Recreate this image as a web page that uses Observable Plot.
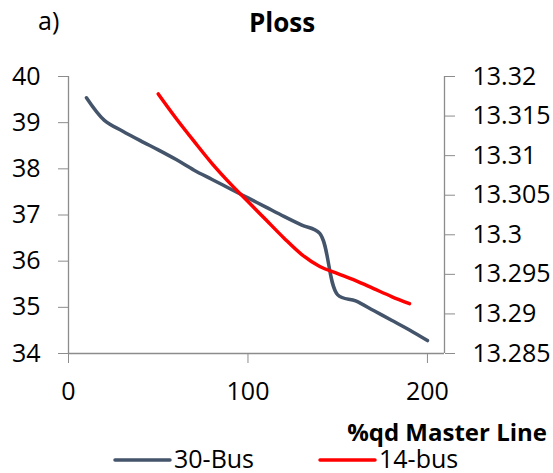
<!DOCTYPE html>
<html>
<head>
<meta charset="utf-8">
<script src="https://cdn.jsdelivr.net/npm/d3@7"></script>
<script src="https://cdn.jsdelivr.net/npm/@observablehq/plot@0.6"></script>
<style>
  html, body { margin: 0; padding: 0; background: #fff; }
</style>
</head>
<body>
<div id="chart"></div>
<script>
// ---- data ----
const chartTitle = "Ploss";
const panelLabel = "a)";
const xLabel = "%qd Master Line";
const seriesNames = ["30-Bus", "14-bus"];
const seriesColors = ["#44546A", "#FF0000"];

const x30 = [10, 20, 30, 40, 50, 60, 70, 80, 90, 100, 110, 120, 130, 140, 150, 160, 170, 180, 190, 200];
const y30 = [39.54, 39.05, 38.82, 38.61, 38.41, 38.2, 37.97, 37.77, 37.57, 37.37, 37.17, 36.97, 36.78, 36.6, 35.27, 35.14, 34.93, 34.72, 34.51, 34.28];

const x14 = [50, 60, 70, 80, 90, 100, 110, 120, 130, 140, 150, 160, 170, 180, 190];
const y14 = [13.3178, 13.3147, 13.3118, 13.309, 13.3065, 13.3042, 13.3019, 13.2996, 13.2975, 13.296, 13.2951, 13.2942, 13.2932, 13.2922, 13.2913];

const xTicks = [0, 100, 200];
const leftTicks = [34, 35, 36, 37, 38, 39, 40];
const rightTicks = [13.285, 13.29, 13.295, 13.3, 13.305, 13.31, 13.315, 13.32];
const xDomain = [0, 209.5];
const leftDomain = [34, 40];
const rightDomain = [13.285, 13.32];

// map right-axis values onto left scale
const toLeft = v => leftDomain[0] + (v - rightDomain[0]) / (rightDomain[1] - rightDomain[0]) * (leftDomain[1] - leftDomain[0]);
const toRight = v => rightDomain[0] + (v - leftDomain[0]) / (leftDomain[1] - leftDomain[0]) * (rightDomain[1] - rightDomain[0]);

const data30 = x30.map((x, i) => ({x, y: y30[i]}));
const data14 = x14.map((x, i) => ({x, y: toLeft(y14[i])}));

const axisColor = "#8c8c8c";
const font = "'Open Sans', 'Liberation Sans', sans-serif";

const svg = Plot.plot({
  width: 553,
  height: 473,
  marginTop: 76,
  marginLeft: 68,
  marginRight: 109,
  marginBottom: 120,
  style: {fontFamily: font, fontSize: "25px", color: "#000", background: "#fff"},
  x: {domain: xDomain},
  y: {domain: leftDomain},
  marks: [
    Plot.ruleX([xDomain[0], xDomain[1]], {y1: leftDomain[0], y2: leftDomain[1], stroke: axisColor, strokeWidth: 1.3}),
    Plot.ruleY([leftDomain[0]], {x1: xDomain[0], x2: xDomain[1], stroke: axisColor, strokeWidth: 1.3}),
    Plot.axisX(xTicks, {anchor: "bottom", tickSize: 10, tickPadding: 19, stroke: axisColor, fill: "#000", fontSize: 25, label: null}),
    Plot.axisY(leftTicks, {anchor: "left", tickSize: 10, tickPadding: 18, stroke: axisColor, fill: "#000", fontSize: 25, label: null}),
    Plot.axisY(rightTicks.map(toLeft), {anchor: "right", tickSize: 10, tickPadding: 18, stroke: axisColor, fill: "#000", fontSize: 25, label: null,
      tickFormat: d => String(+toRight(d).toFixed(3))}),
    Plot.line(data30, {x: "x", y: "y", stroke: seriesColors[0], strokeWidth: 3.5, curve: "catmull-rom"}),
    Plot.line(data14, {x: "x", y: "y", stroke: seriesColors[1], strokeWidth: 3.5, curve: "catmull-rom"})
  ]
});

document.getElementById("chart").appendChild(svg);

// ---- titles and legend ----
const s = d3.select(svg);
s.append("text").attr("x", 38).attr("y", 30).attr("text-anchor", "start").attr("font-size", 25).attr("font-family", font).text(panelLabel);
s.append("text").attr("x", 282).attr("y", 32).attr("text-anchor", "middle").attr("font-size", 26).attr("font-weight", "bold").attr("font-family", font).text(chartTitle);
s.append("text").attr("x", 547).attr("y", 441).attr("text-anchor", "end").attr("font-size", 24).attr("font-weight", "bold").attr("font-family", font).text(xLabel);

const legendX = [115, 320];
seriesNames.forEach((name, i) => {
  s.append("line").attr("x1", legendX[i]).attr("x2", legendX[i] + 55).attr("y1", 460).attr("y2", 460)
    .attr("stroke", seriesColors[i]).attr("stroke-width", 3.5).attr("stroke-linecap", "round");
  s.append("text").attr("x", legendX[i] + 59).attr("y", 468).attr("text-anchor", "start").attr("font-size", 25).attr("font-family", font).text(name);
});
</script>
</body>
</html>
